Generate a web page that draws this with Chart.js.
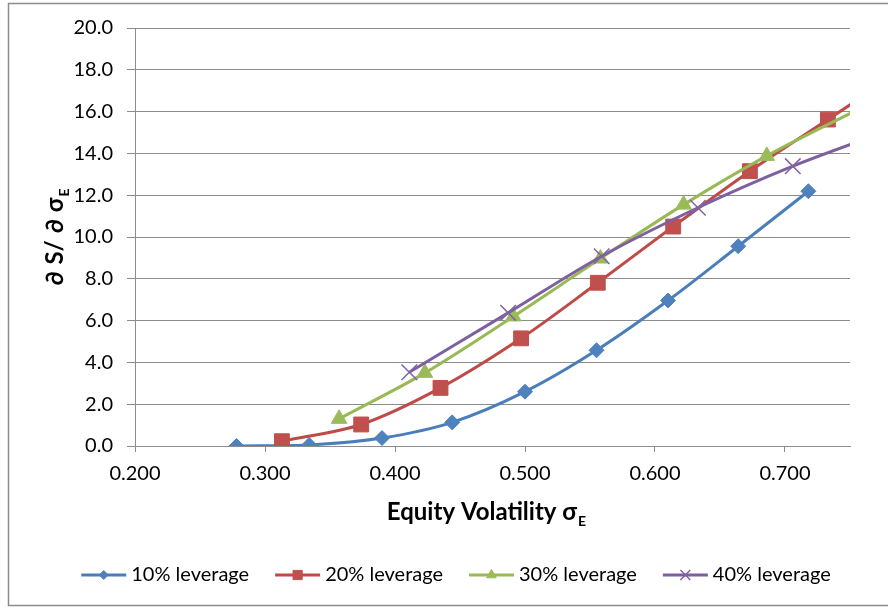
<!DOCTYPE html>
<html>
<head>
<meta charset="utf-8">
<script src="https://cdn.jsdelivr.net/npm/chart.js@4.4.1/dist/chart.umd.min.js"></script>
<style>
  html, body { margin: 0; padding: 0; background: #fff; }
  #wrap { width: 888px; height: 608px; position: relative; }
</style>
</head>
<body>
<div id="wrap"><canvas id="sensChart" width="888" height="608"></canvas></div>
<script>
// values
let seriesNames = ['10% leverage', '20% leverage', '30% leverage', '40% leverage'];

let lev10X = [0.278, 0.334, 0.390, 0.444, 0.500, 0.555, 0.610, 0.664, 0.718];
let lev10Y = [0.0, 0.05, 0.38, 1.13, 2.6, 4.58, 6.96, 9.56, 12.19];

let lev20X = [0.313, 0.374, 0.435, 0.497, 0.556, 0.614, 0.673, 0.733, 0.793];
let lev20Y = [0.23, 1.03, 2.78, 5.15, 7.81, 10.5, 13.15, 15.62, 18.1];

let lev30X = [0.357, 0.423, 0.491, 0.558, 0.622, 0.686, 0.756];
let lev30Y = [1.3, 3.5, 6.2, 8.97, 11.55, 13.88, 16.1];

let lev40X = [0.411, 0.487, 0.559, 0.633, 0.706, 0.780];
let lev40Y = [3.53, 6.37, 9.08, 11.4, 13.39, 15.1];

let xTicks = [0.2, 0.3, 0.4, 0.5, 0.6, 0.7];
let yTicks = [0, 2, 4, 6, 8, 10, 12, 14, 16, 18, 20];

let lineColors = ['#4A7EBB', '#BE4B48', '#98B954', '#7D60A0'];
let markColors = ['#4F81BD', '#C0504D', '#9BBB59', '#8064A2'];
let markStyles = ['rectRot', 'rect', 'triangle', 'crossRot'];
let markSizes = [7.5, 10.5, 9, 11];
let legendSizes = [4.5, 6.5, 5.5, 7];

let fontName = 'Lato, "Open Sans", sans-serif';
let gridGray = '#8c8c8c';

function toPoints(xs, ys) {
    let pts = [];
    for (let i = 0; i < xs.length; i++) {
        pts.push({ x: xs[i], y: ys[i] });
    }
    return pts;
}

let allX = [lev10X, lev20X, lev30X, lev40X];
let allY = [lev10Y, lev20Y, lev30Y, lev40Y];

let datasets = [];
for (let i = 0; i < allX.length; i++) {
    datasets.push({
        label: seriesNames[i],
        data: toPoints(allX[i], allY[i]),
        showLine: true,
        tension: 0.33,
        borderColor: lineColors[i],
        borderWidth: 3,
        pointStyle: markStyles[i],
        pointRadius: markSizes[i],
        pointHoverRadius: markSizes[i],
        pointBackgroundColor: markColors[i],
        pointBorderColor: markColors[i],
        pointBorderWidth: markStyles[i] === 'crossRot' ? 1.5 : 1,
        order: allX.length - i
    });
}

// axis titles with subscripts, legend and frame
let decorPlugin = {
    id: 'decor',
    afterDraw(chart) {
        let ctx = chart.ctx;
        let area = chart.chartArea;
        ctx.save();

        // outer frame
        ctx.strokeStyle = '#8c8c8c';
        ctx.lineWidth = 1.5;
        ctx.strokeRect(8.5, 3.5, 900, 602);

        ctx.fillStyle = '#000';
        ctx.textBaseline = 'alphabetic';
        ctx.textAlign = 'left';

        // x title
        let mainFont = 'bold 24px ' + fontName;
        let subFont = 'bold 14px ' + fontName;
        let xMain = 'Equity Volatility σ';
        ctx.font = mainFont;
        let w1 = ctx.measureText(xMain).width;
        ctx.font = subFont;
        let w2 = ctx.measureText('E').width;
        let xStart = 486 - (w1 + w2) / 2;
        ctx.font = mainFont;
        ctx.fillText(xMain, xStart, 520);
        ctx.font = subFont;
        ctx.fillText('E', xStart + w1 + 1, 526);

        // y title
        let yParts = ['∂', 'S/', '∂', 'σ'];
        let partGap = 7;
        ctx.save();
        ctx.translate(63, (area.top + area.bottom) / 2);
        ctx.rotate(-Math.PI / 2);
        ctx.font = mainFont;
        let partW = yParts.map(p => ctx.measureText(p).width);
        ctx.font = subFont;
        let v2 = ctx.measureText('E').width;
        let totalW = partW.reduce((a, b) => a + b, 0) + partGap * (yParts.length - 1) + v2 + 1;
        let px = -totalW / 2;
        ctx.font = mainFont;
        for (let i = 0; i < yParts.length; i++) {
            ctx.fillText(yParts[i], px, 0);
            px += partW[i] + (i < yParts.length - 1 ? partGap : 0);
        }
        ctx.font = subFont;
        ctx.fillText('E', px + 1, 6);
        ctx.restore();

        // legend
        let legFont = '20px ' + fontName;
        ctx.font = legFont;
        let lineLen = 45, textGap = 5, itemGap = 26;
        let widths = seriesNames.map(n => lineLen + textGap + ctx.measureText(n).width);
        let total = widths.reduce((a, b) => a + b, 0) + itemGap * (widths.length - 1);
        let lx = 456 - total / 2;
        let ly = 575;
        for (let i = 0; i < seriesNames.length; i++) {
            ctx.strokeStyle = lineColors[i];
            ctx.lineWidth = 3;
            ctx.beginPath();
            ctx.moveTo(lx, ly);
            ctx.lineTo(lx + lineLen, ly);
            ctx.stroke();
            ctx.fillStyle = markColors[i];
            ctx.strokeStyle = markColors[i];
            ctx.lineWidth = markStyles[i] === 'crossRot' ? 1.5 : 1;
            Chart.helpers.drawPoint(ctx, {
                pointStyle: markStyles[i],
                radius: legendSizes[i],
                rotation: 0,
                borderWidth: 1
            }, lx + lineLen / 2, ly);
            ctx.fillStyle = '#000';
            ctx.font = legFont;
            ctx.textBaseline = 'middle';
            ctx.fillText(seriesNames[i], lx + lineLen + textGap, ly);
            lx += widths[i] + itemGap;
        }
        ctx.restore();
    }
};

let sensCtx = document.getElementById('sensChart').getContext('2d');
let sensChart = new Chart(sensCtx, {
    type: 'scatter',
    data: { datasets: datasets },
    options: {
        responsive: false,
        animation: false,
        layout: { padding: { top: 28, right: 38, left: 0, bottom: 0 } },
        plugins: {
            legend: { display: false },
            tooltip: { enabled: false }
        },
        scales: {
            x: {
                type: 'linear',
                min: 0.2,
                max: 0.75,
                afterBuildTicks: s => { s.ticks = xTicks.map(v => ({ value: v })); },
                afterFit: s => { s.height = 162; },
                grid: { drawOnChartArea: false, drawTicks: true, tickLength: 6, color: gridGray },
                border: { color: gridGray, width: 1 },
                ticks: {
                    callback: v => v.toFixed(3),
                    font: { family: fontName, size: 20 },
                    color: '#000',
                    padding: 10,
                    maxRotation: 0,
                    autoSkip: false
                }
            },
            y: {
                type: 'linear',
                min: 0,
                max: 20,
                afterBuildTicks: s => { s.ticks = yTicks.map(v => ({ value: v })); },
                afterFit: s => { s.width = 135; },
                grid: { color: gridGray, tickLength: 8 },
                border: { color: gridGray, width: 1 },
                ticks: {
                    callback: v => v.toFixed(1),
                    font: { family: fontName, size: 20 },
                    color: '#000',
                    padding: 14
                }
            }
        }
    },
    plugins: [decorPlugin]
});
</script>
</body>
</html>
